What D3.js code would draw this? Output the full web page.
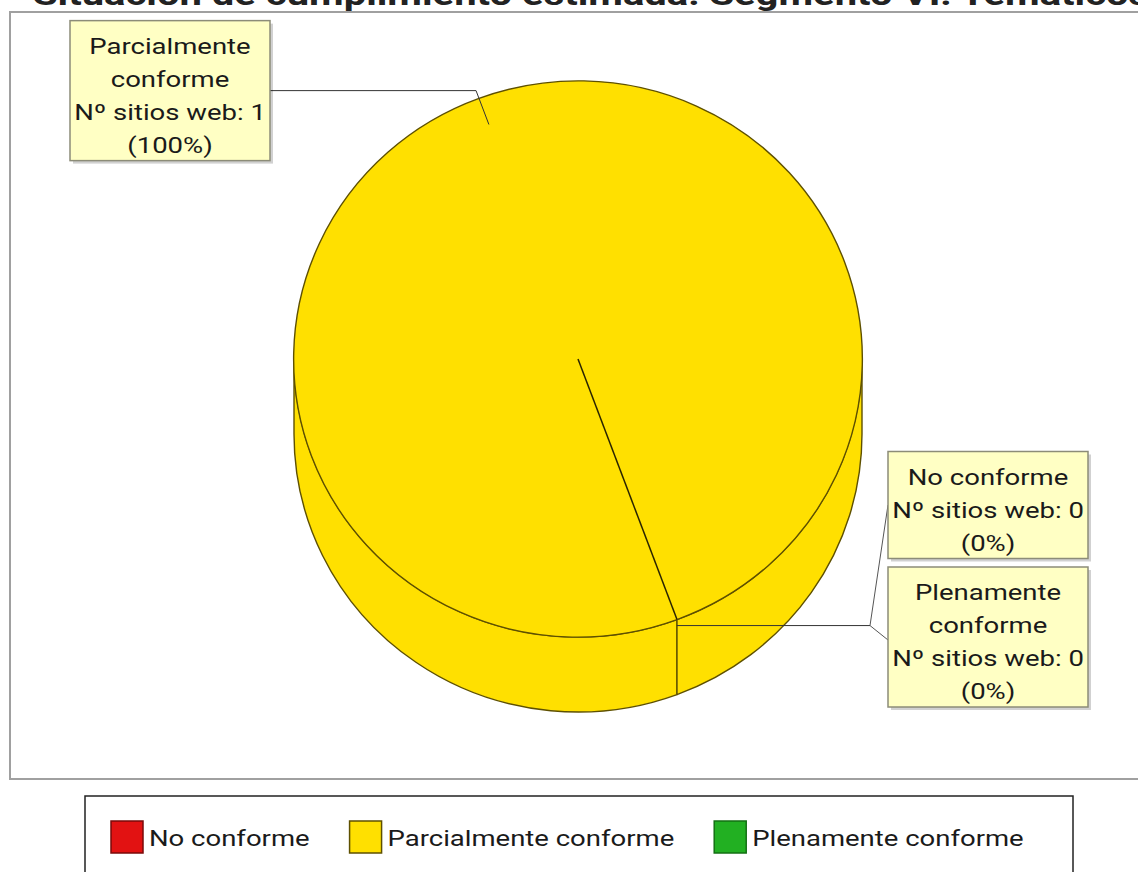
<!DOCTYPE html>
<html>
<head>
<meta charset="utf-8">
<script src="https://cdn.jsdelivr.net/npm/d3@7"></script>
<style>
  html, body { margin: 0; padding: 0; background: #fff; overflow: hidden; }
  svg { display: block; font-family: Roboto, "Noto Sans", sans-serif; }
</style>
</head>
<body>
<svg id="chart" width="1138" height="872"></svg>
<script>
// ---- data ----
const titleText = "Situación de cumplimiento estimada: Segmento VI: Temáticos";
const categories = ["No conforme", "Parcialmente conforme", "Plenamente conforme"];
const siteCounts = [0, 1, 0];
const countPrefix = "Nº sitios web: ";

// ---- styles ----
const fillColors = ["#E21212", "#FFE000", "#22B022"];
const strokeColors = ["#7a0a0a", "#5e5000", "#137013"];

const W = 1138, H = 872;
const svg = d3.select("#chart");
const FONT = 22, SX = 1.25, LH = 33;

// title (mostly cut off at top)
svg.append("text")
  .attr("transform", `translate(33,5) scale(1.29,1)`)
  .attr("font-size", 31).attr("font-weight", "bold").attr("fill", "#222")
  .text(titleText);

// plot area border
svg.append("rect").attr("x", 10).attr("y", 12).attr("width", 1140).attr("height", 767)
  .attr("fill", "none").attr("stroke", "#a0a0a0").attr("stroke-width", 2);

// ---- 3D pie ----
const cx = 578, cy = 359, rx = 284, ry = 278, depth = 75;
const startDeg = 159.6;
const pie = d3.pie().sort(null).value(d => d)
  .startAngle(startDeg * Math.PI / 180).endAngle(startDeg * Math.PI / 180 + 2 * Math.PI);
const arcs = pie(siteCounts);
const pt = (a, dy = 0) => [cx + rx * Math.sin(a), cy + dy - ry * Math.cos(a)];
const P = p => p[0].toFixed(2) + "," + p[1].toFixed(2);

const g = svg.append("g");
// side walls (front half only)
arcs.forEach((d, i) => {
  if (d.endAngle - d.startAngle <= 0) return;
  for (let k = -1; k <= 2; k++) {
    const lo = Math.max(d.startAngle, Math.PI / 2 + 2 * Math.PI * k);
    const hi = Math.min(d.endAngle, 3 * Math.PI / 2 + 2 * Math.PI * k);
    if (hi - lo <= 1e-6) continue;
    const path = `M${P(pt(lo))} A${rx},${ry} 0 0 1 ${P(pt(hi))} L${P(pt(hi, depth))} A${rx},${ry} 0 0 0 ${P(pt(lo, depth))} Z`;
    g.append("path").attr("d", path).attr("fill", fillColors[i])
      .attr("stroke", strokeColors[i]).attr("stroke-width", 1.4).attr("stroke-linejoin", "round");
  }
});
// top faces
const arcGen = d3.arc().innerRadius(0).outerRadius(rx);
arcs.forEach((d, i) => {
  if (d.endAngle - d.startAngle <= 0) return;
  g.append("path").attr("d", arcGen(d))
    .attr("transform", `translate(${cx},${cy}) scale(1,${ry / rx})`)
    .attr("vector-effect", "non-scaling-stroke")
    .attr("fill", fillColors[i]).attr("stroke", strokeColors[i]).attr("stroke-width", 1.4);
  if (d.endAngle - d.startAngle >= 2 * Math.PI - 1e-6) {
    // full circle: draw the radial boundary edge
    g.append("line").attr("x1", cx).attr("y1", cy)
      .attr("x2", pt(d.startAngle)[0]).attr("y2", pt(d.startAngle)[1])
      .attr("stroke", "#2a2400").attr("stroke-width", 1.5);
  }
});

// ---- labels ----
const total = d3.sum(siteCounts);
function wrapLines(name) {
  const tmp = svg.append("text").attr("font-size", FONT);
  const words = name.split(" "); const lines = []; let cur = "";
  words.forEach(w => {
    const test = cur ? cur + " " + w : w;
    tmp.text(test);
    if (tmp.node().getComputedTextLength() * SX > 185 && cur) { lines.push(cur); cur = w; }
    else cur = test;
  });
  lines.push(cur); tmp.remove();
  return lines;
}
function drawBox(x, yCenter, lines) {
  const bw = 200, bh = lines.length * LH + 8;
  const top = yCenter - bh / 2;
  const bg = svg.append("g");
  bg.append("rect").attr("x", x + 3).attr("y", top + 3).attr("width", bw).attr("height", bh)
    .attr("fill", "#000").attr("opacity", 0.18);
  bg.append("rect").attr("x", x).attr("y", top).attr("width", bw).attr("height", bh)
    .attr("fill", "#FFFFC4").attr("stroke", "#8c8c78").attr("stroke-width", 1.5);
  lines.forEach((t, j) => {
    bg.append("text").attr("transform", `translate(${x + bw / 2},${top + LH * (j + 1)}) scale(${SX},1)`)
      .attr("text-anchor", "middle").attr("font-size", FONT).attr("fill", "#1a1a1a").text(t);
  });
}
const labelLines = arcs.map((d, i) => wrapLines(categories[i]).concat([
  countPrefix + siteCounts[i], "(" + Math.round(siteCounts[i] / total * 100) + "%)"]));

const lineStroke = "#333";
// non-zero slice label: left side
arcs.forEach((d, i) => {
  if (d.value <= 0) return;
  const mid = (d.startAngle + d.endAngle) / 2;
  const inner = [cx + 0.9 * rx * Math.sin(mid), cy - 0.9 * ry * Math.cos(mid)];
  const outer = [cx + 1.03 * rx * Math.sin(mid), cy - 1.03 * ry * Math.cos(mid)];
  const boxRight = 270;
  svg.append("polyline").attr("points", [inner, outer, [boxRight, outer[1]]].map(P).join(" "))
    .attr("fill", "none").attr("stroke", lineStroke).attr("stroke-width", 1);
  drawBox(boxRight - 200, outer[1], labelLines[i]);
});
// zero slices: right side stacked
const zeroIdx = arcs.map((d, i) => i).filter(i => arcs[i].value <= 0);
const anchor = pt(arcs[zeroIdx[0]].startAngle);
const junction = [870, anchor[1] + 6];
const boxCenters = [505, 637];
svg.append("line").attr("x1", anchor[0]).attr("y1", junction[1]).attr("x2", junction[0]).attr("y2", junction[1])
  .attr("stroke", lineStroke).attr("stroke-width", 1);
zeroIdx.forEach((i, k) => {
  svg.append("line").attr("x1", junction[0]).attr("y1", junction[1]).attr("x2", 888).attr("y2", boxCenters[k] + (k === 1 ? 3 : 0))
    .attr("stroke", "#555").attr("stroke-width", 1);
  drawBox(888, boxCenters[k], labelLines[i]);
});

// ---- legend ----
svg.append("rect").attr("x", 85).attr("y", 796).attr("width", 988).attr("height", 100)
  .attr("fill", "#fff").attr("stroke", "#222").attr("stroke-width", 1.5);
let lx = 111;
categories.forEach((c, i) => {
  svg.append("rect").attr("x", lx).attr("y", 821).attr("width", 32).attr("height", 32)
    .attr("fill", fillColors[i]).attr("stroke", strokeColors[i]).attr("stroke-width", 1.5);
  const t = svg.append("text").attr("transform", `translate(${lx + 38},846) scale(${SX},1)`)
    .attr("font-size", FONT).attr("fill", "#1a1a1a").text(c);
  lx += 38 + t.node().getComputedTextLength() * SX + 40;
});
</script>
</body>
</html>
